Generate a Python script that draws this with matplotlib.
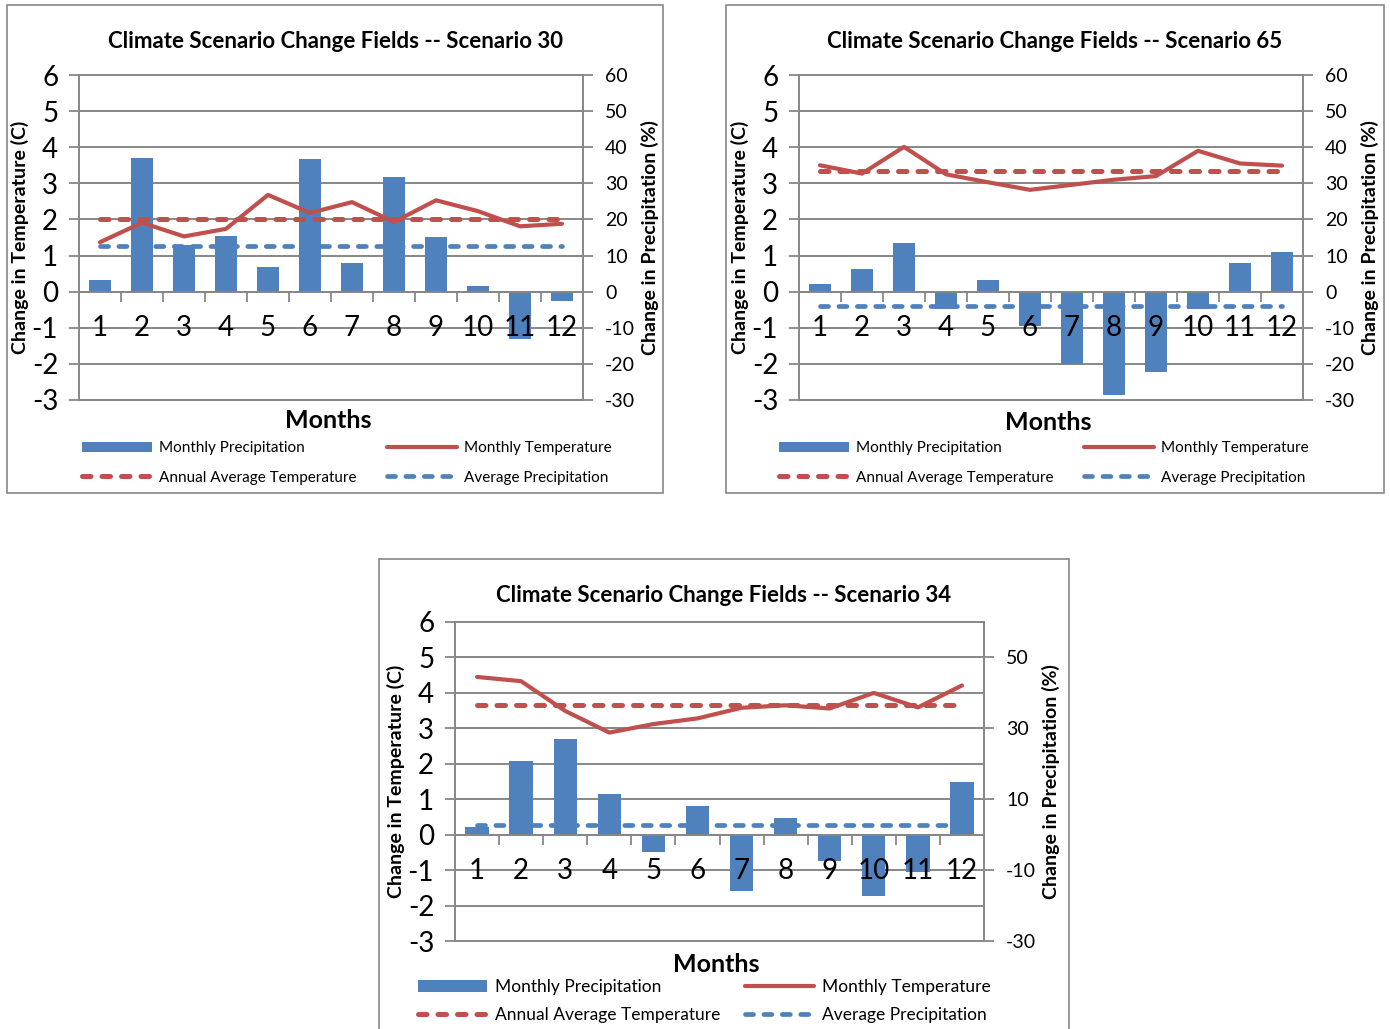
import matplotlib
matplotlib.use('Agg')
import matplotlib.pyplot as plt
from matplotlib.patches import Rectangle

plt.rcParams['font.family'] = ['Lato', 'DejaVu Sans']
plt.rcParams['axes.unicode_minus'] = False

months = list(range(1, 13))
leftTicks = list(range(-3, 7))

# Scenario 30
temp30 = [1.37, 1.91, 1.53, 1.74, 2.68, 2.18, 2.48, 1.93, 2.53, 2.23, 1.81, 1.88]
precip30 = [3.1, 37.0, 13.0, 15.3, 6.9, 36.6, 7.9, 31.8, 15.1, 1.6, -13.2, -2.5]
avgTemp30 = 2.02
avgPrecip30 = 12.7
rightTicks30 = [-30, -20, -10, 0, 10, 20, 30, 40, 50, 60]

# Scenario 65
temp65 = [3.50, 3.27, 4.01, 3.25, 3.03, 2.82, 2.96, 3.10, 3.20, 3.90, 3.55, 3.49]
precip65 = [2.0, 6.3, 13.4, -4.8, 3.2, -9.6, -19.9, -28.7, -22.2, -4.8, 7.8, 10.9]
avgTemp65 = 3.34
avgPrecip65 = -3.9
rightTicks65 = [-30, -20, -10, 0, 10, 20, 30, 40, 50, 60]

# Scenario 34
temp34 = [4.45, 4.33, 3.49, 2.88, 3.12, 3.28, 3.58, 3.65, 3.56, 4.00, 3.59, 4.21]
precip34 = [2.1, 20.8, 26.9, 11.4, -4.9, 8.1, -15.9, 4.7, -7.3, -17.3, -10.5, 14.8]
avgTemp34 = 3.66
avgPrecip34 = 2.7
rightTicks34 = [-30, -10, 10, 30, 50]

BLUE = '#4F81BD'
RED = '#C0504D'
GRAY = '#878787'

W, H = 1390, 1029
fig = plt.figure(figsize=(W / 100, H / 100), dpi=100)


def fx(px):
    return px / W


def fy(py):
    return 1 - py / H


def drawPanel(box, plot, title, temp, precip, avgT, avgP, rticks, titleY, monthsY,
              legX, legY, legSize, legGap, legHandle, legSpacing):
    # outer chart border
    bx0, by0, bx1, by1 = box
    fig.patches.append(Rectangle((fx(bx0), fy(by1)), fx(bx1) - fx(bx0), fy(by0) - fy(by1),
                                 transform=fig.transFigure, fill=False, edgecolor=GRAY, lw=1.2))
    x0, y0, x1, y1 = plot
    ax1 = fig.add_axes([fx(x0), fy(y1), fx(x1) - fx(x0), fy(y0) - fy(y1)])
    ax2 = ax1.twinx()
    ax1.set_zorder(ax2.get_zorder() + 1)
    ax1.patch.set_visible(False)

    # right axis: precipitation bars, gridlines behind them
    for v in range(-30, 70, 10):
        ax2.axhline(v, color=GRAY, lw=1.4, zorder=0, clip_on=False)
    bars = ax2.bar(months, precip, width=0.53, color=BLUE, zorder=2, label='Monthly Precipitation')
    ax2.set_ylim(-30, 60)
    ax2.set_yticks(rticks)
    ax2.tick_params(axis='y', direction='out', length=7, width=1.3, color=GRAY,
                    labelsize=14, pad=9)
    for s in ['top', 'bottom', 'left']:
        ax2.spines[s].set_visible(False)
    ax2.spines['right'].set_color(GRAY)
    ax2.spines['right'].set_linewidth(1.4)
    ax2.set_ylabel('Change in Precipitation (%)', fontsize=14, fontweight='bold', labelpad=4)

    # left axis: temperature lines
    lineT, = ax1.plot(months, temp, color=RED, lw=3.0, solid_capstyle='round',
                      label='Monthly Temperature')
    avgTline, = ax1.plot(months, [avgT] * 12, color=RED, lw=3.6, dashes=(1.7, 2.2),
                         dash_capstyle='round', label='Annual Average Temperature')
    avgPline, = ax1.plot(months, [avgP / 10] * 12, color=BLUE, lw=3.4, dashes=(1.7, 2.2),
                         dash_capstyle='round', label='Average Precipitation')
    ax1.set_ylim(-3, 6)
    ax1.set_xlim(0.5, 12.5)
    ax1.set_yticks(leftTicks)
    ax1.tick_params(axis='y', direction='out', length=7, width=1.3, color=GRAY,
                    labelsize=20, pad=8)
    ax1.spines['bottom'].set_position(('data', 0))
    ax1.spines['bottom'].set_color(GRAY)
    ax1.spines['bottom'].set_linewidth(1.4)
    ax1.spines['left'].set_color(GRAY)
    ax1.spines['left'].set_linewidth(1.4)
    ax1.spines['top'].set_visible(False)
    ax1.spines['right'].set_visible(False)
    ax1.set_xticks(months)
    ax1.set_xticklabels([str(m) for m in months])
    ax1.tick_params(axis='x', which='major', length=0, labelsize=20, pad=17)
    ax1.set_xticks([m + 0.5 for m in months[:-1]], minor=True)
    ax1.tick_params(axis='x', which='minor', direction='out', length=7, width=1.3, color=GRAY)
    ax1.set_ylabel('Change in Temperature (C)', fontsize=14, fontweight='bold', labelpad=2)

    cx = (fx(bx0) + fx(bx1)) / 2
    fig.text(cx, fy(titleY), title, ha='center', va='center', fontsize=16, fontweight='bold')
    fig.text((fx(x0) + fx(x1)) / 2 - 0.002, fy(monthsY), 'Months', ha='center', va='center',
             fontsize=18, fontweight='bold')

    handles = [bars, avgTline, lineT, avgPline]
    labels = [h.get_label() for h in handles]
    fig.legend(handles, labels, loc='center left', bbox_to_anchor=(fx(legX), fy(legY)),
               ncol=2, frameon=False, fontsize=legSize, handlelength=legHandle, handletextpad=0.45,
               columnspacing=legGap, labelspacing=legSpacing, borderpad=0, borderaxespad=0)


drawPanel((7, 5, 663, 493), (79, 75, 583, 400), 'Climate Scenario Change Fields -- Scenario 30',
          temp30, precip30, avgTemp30, avgPrecip30, rightTicks30, 41, 421,
          82, 463, 11, 2.0, 4.6, 1.0)
drawPanel((726, 5, 1384, 493), (799, 75, 1303, 400), 'Climate Scenario Change Fields -- Scenario 65',
          temp65, precip65, avgTemp65, avgPrecip65, rightTicks65, 41, 422,
          779, 463, 11, 2.0, 4.6, 1.0)
drawPanel((379, 559, 1069, 1040), (455, 622, 984, 941), 'Climate Scenario Change Fields -- Scenario 34',
          temp34, precip34, avgTemp34, avgPrecip34, rightTicks34, 595, 964,
          418, 1001, 12.5, 1.4, 4.0, 0.72)

fig.savefig('out.png', dpi=100)
